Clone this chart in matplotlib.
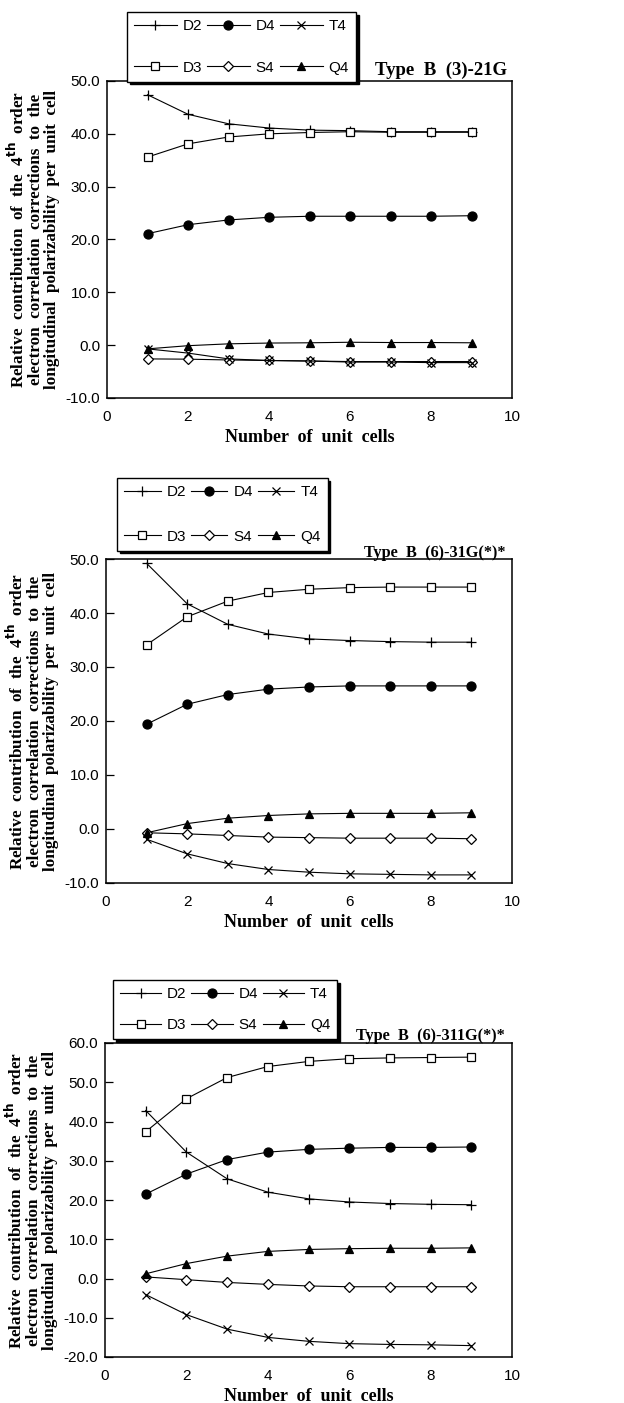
import numpy as np
import matplotlib
matplotlib.use('Agg')
import matplotlib.pyplot as plt

# Number of unit cells
cells = [1, 2, 3, 4, 5, 6, 7, 8, 9]

# Panel 1: Type B (3)-21G
d2_a = [47.4, 43.7, 41.9, 41.1, 40.7, 40.6, 40.4, 40.4, 40.4]
d3_a = [35.6, 38.1, 39.4, 40.0, 40.25, 40.4, 40.3, 40.3, 40.3]
d4_a = [21.1, 22.8, 23.7, 24.2, 24.4, 24.4, 24.4, 24.4, 24.5]
t4_a = [-0.7, -1.5, -2.6, -2.9, -3.0, -3.2, -3.2, -3.3, -3.3]
s4_a = [-2.6, -2.65, -2.8, -2.9, -3.0, -3.1, -3.1, -3.1, -3.1]
q4_a = [-0.7, -0.1, 0.25, 0.4, 0.45, 0.55, 0.5, 0.5, 0.45]

# Panel 2: Type B (6)-31G(*)*
d2_b = [49.2, 41.7, 37.9, 36.1, 35.2, 34.9, 34.7, 34.6, 34.6]
d3_b = [34.1, 39.3, 42.2, 43.8, 44.4, 44.7, 44.8, 44.8, 44.8]
d4_b = [19.4, 23.1, 24.9, 25.9, 26.3, 26.5, 26.5, 26.5, 26.5]
t4_b = [-1.9, -4.6, -6.4, -7.5, -8.0, -8.3, -8.4, -8.5, -8.5]
s4_b = [-0.7, -0.9, -1.2, -1.5, -1.6, -1.7, -1.7, -1.7, -1.8]
q4_b = [-0.7, 1.0, 2.0, 2.5, 2.8, 2.9, 2.9, 2.9, 3.0]

# Panel 3: Type B (6)-311G(*)*
d2_c = [42.8, 32.2, 25.4, 22.0, 20.3, 19.5, 19.1, 18.9, 18.8]
d3_c = [37.4, 45.8, 51.2, 54.0, 55.3, 56.0, 56.2, 56.3, 56.4]
d4_c = [21.5, 26.6, 30.3, 32.2, 32.9, 33.2, 33.4, 33.4, 33.5]
t4_c = [-4.1, -9.2, -12.9, -15.0, -16.0, -16.6, -16.8, -16.9, -17.1]
s4_c = [0.4, -0.3, -1.0, -1.5, -1.9, -2.1, -2.1, -2.1, -2.1]
q4_c = [1.2, 3.8, 5.7, 6.9, 7.4, 7.6, 7.7, 7.7, 7.8]

titles = ['Type  B  (3)-21G', 'Type  B  (6)-31G(*)*', 'Type  B  (6)-311G(*)*']
ylims = [(-10, 50), (-10, 50), (-20, 60)]
ylabel_lines = ['Relative  contribution  of  the  4$^{\\mathbf{th}}$  order',
                'electron  correlation  corrections  to  the',
                'longitudinal  polarizability  per  unit  cell']

SERIF = ['Liberation Serif', 'DejaVu Serif']
SANS = ['Liberation Sans', 'DejaVu Sans']

# (marker, facecolor, size)
styles = {
    'D2': ('+', 'black', 7),
    'D3': ('s', 'white', 6),
    'D4': ('o', 'black', 6.5),
    'S4': ('D', 'white', 5),
    'T4': ('x', 'black', 6),
    'Q4': ('^', 'black', 6),
}

panels = [
    {'D2': d2_a, 'D3': d3_a, 'D4': d4_a, 'S4': s4_a, 'T4': t4_a, 'Q4': q4_a},
    {'D2': d2_b, 'D3': d3_b, 'D4': d4_b, 'S4': s4_b, 'T4': t4_b, 'Q4': q4_b},
    {'D2': d2_c, 'D3': d3_c, 'D4': d4_c, 'S4': s4_c, 'T4': t4_c, 'Q4': q4_c},
]

# axes rectangles in pixels (left, top, right, bottom) for a 624x1403 canvas
W, H = 624, 1403
ax_px = [(107, 81, 512, 398), (106, 559, 512, 883), (105, 1043, 512, 1357)]
# legend: left, top, row gap, handle length
leg_px = [(127, 12, 43, 2.8), (117, 478, 46, 2.4), (113, 980, 32, 2.7)]
# title: right edge, baseline, font size
title_px = [(507, 75, 13.5), (506, 557, 11.7), (505, 1040, 11.7)]

fig = plt.figure(figsize=(W / 100, H / 100), dpi=100)
plt.rcParams['font.family'] = SANS

for i, data in enumerate(panels):
    l, t, r, b = ax_px[i]
    ax = fig.add_axes([l / W, 1 - b / H, (r - l) / W, (b - t) / H])
    handles = {}
    for name in ['D2', 'D3', 'D4', 'S4', 'T4', 'Q4']:
        m, fc, ms = styles[name]
        ln, = ax.plot(cells, data[name], color='black', lw=0.8, marker=m,
                      markerfacecolor=fc, markeredgecolor='black',
                      markersize=ms, markeredgewidth=0.9, label=name)
        handles[name] = ln

    lo, hi = ylims[i]
    ax.set_xlim(0, 10)
    ax.set_ylim(lo, hi)
    ax.set_xticks(np.arange(0, 11, 2))
    ax.set_yticks(np.arange(lo, hi + 1, 10))
    ax.set_yticklabels(['%.1f' % v for v in np.arange(lo, hi + 1, 10)])
    ax.tick_params(axis='y', direction='in', length=6, width=0.9, pad=5, labelsize=11)
    ax.tick_params(axis='x', length=0, pad=9, labelsize=11)
    for sp in ax.spines.values():
        sp.set_linewidth(1.1)

    ax.set_xlabel('Number  of  unit  cells', family=SERIF, fontweight='bold',
                  fontsize=13, labelpad=3)
    ax.text(-0.182, 0.5, '\n'.join(ylabel_lines), transform=ax.transAxes,
            rotation=90, ha='center', va='center', multialignment='center',
            family=SERIF, fontweight='bold', fontsize=12.3, linespacing=1.0)

    tx, ty, tfs = title_px[i]
    fig.text(tx / W, 1 - ty / H, titles[i], ha='right', va='baseline',
             family=SERIF, fontweight='bold', fontsize=tfs)

    # legend order is column-major: D2/D3, D4/S4, T4/Q4
    order = ['D2', 'D3', 'D4', 'S4', 'T4', 'Q4']
    lx, ly, gap, hl = leg_px[i]
    leg = fig.legend([handles[k] for k in order], order, ncol=3,
                     loc='upper left', bbox_to_anchor=(lx / W, 1 - ly / H),
                     frameon=True, fancybox=False,
                     shadow={'color': 'black', 'alpha': 1.0},
                     fontsize=11, handlelength=hl, handletextpad=0.4,
                     columnspacing=0.3, labelspacing=(gap - 15) / 15.3,
                     borderpad=0.45, borderaxespad=0, markerscale=1.0)
    leg.get_frame().set_edgecolor('black')
    leg.get_frame().set_linewidth(1.0)
    leg.get_frame().set_alpha(1)

fig.savefig('out.png', dpi=100)
